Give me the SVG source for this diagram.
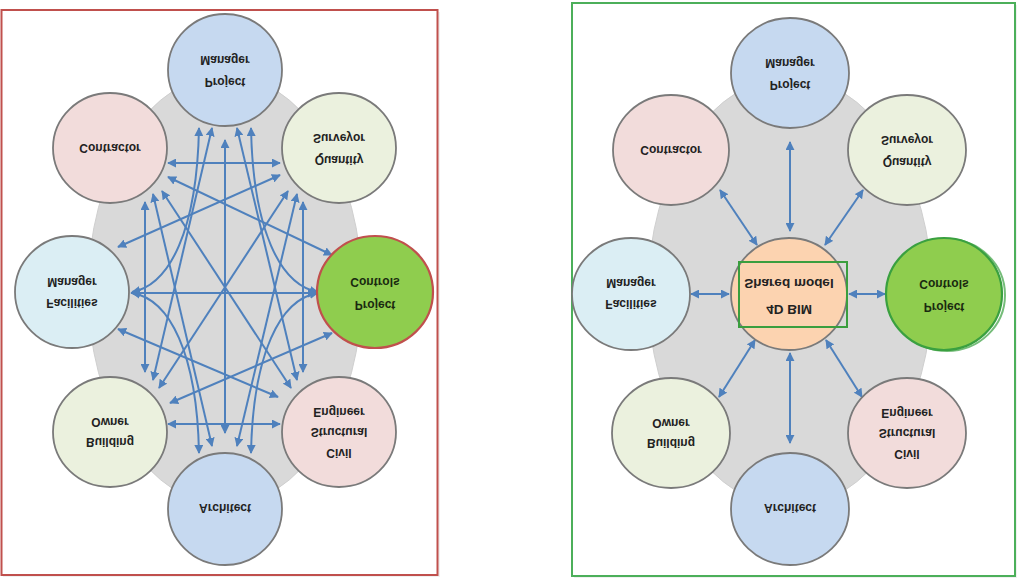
<svg xmlns="http://www.w3.org/2000/svg" width="1024" height="578" viewBox="0 0 1024 578">
<style>
.node{stroke:#7a7a7a;stroke-width:1.8}
.blue{fill:#c6d9f0}
.pink{fill:#f2dcdb}
.cream{fill:#ebf1de}
.cyan{fill:#dbeef4}
.green{fill:#8fcd4e}
.peach{fill:#fcd3b0}
.bg{fill:#d9d9d9;stroke:#cfcfcf;stroke-width:1}
text{font-family:"Liberation Sans",Arial,sans-serif;font-weight:bold;font-size:12px;fill:#222;text-anchor:middle}
.big{font-size:13.5px}
.con line,.con path{stroke:#4f81bd;stroke-width:2;fill:none;marker-start:url(#ah);marker-end:url(#ah)}
</style>
<defs>
<marker id="ah" viewBox="0 0 10 10" refX="9" refY="5" markerWidth="4.5" markerHeight="4.5" orient="auto-start-reverse" markerUnits="strokeWidth">
<path d="M0,0 L10,5 L0,10 z" fill="#4f81bd"/>
</marker>
</defs>
<rect width="1024" height="578" fill="#ffffff"/>

<!-- LEFT PANEL -->
<g id="left-panel">
<rect x="3" y="12" width="437" height="565" fill="#e6e6e6" opacity="0.6"/>
<rect x="1.5" y="10" width="436" height="565" fill="#ffffff" stroke="#c0504d" stroke-width="2"/>
<ellipse class="bg" cx="225" cy="290" rx="137" ry="215"/>
</g>

<g id="left-connectors" class="con">
<line x1="168" y1="163" x2="280" y2="163"/>
<line x1="168" y1="424" x2="280" y2="424"/>
<line x1="131" y1="293" x2="316" y2="293"/>
<line x1="225" y1="140" x2="225" y2="433"/>
<line x1="168" y1="177" x2="332" y2="255"/>
<line x1="280" y1="175" x2="118" y2="247"/>
<line x1="118" y1="329" x2="278" y2="397"/>
<line x1="332" y1="333" x2="170" y2="403"/>
<line x1="145" y1="202" x2="145" y2="372"/>
<line x1="303" y1="202" x2="303" y2="372"/>
<line x1="212" y1="128" x2="153" y2="380"/>
<line x1="237" y1="128" x2="297" y2="380"/>
<line x1="153" y1="194" x2="212" y2="446"/>
<line x1="297" y1="194" x2="237" y2="446"/>
<line x1="162" y1="191" x2="291" y2="388"/>
<line x1="288" y1="191" x2="159" y2="388"/>
<path d="M199,128 C197,230 170,285 132,292"/>
<path d="M251,128 C253,230 280,285 318,292"/>
<path d="M199,453 C197,354 170,299 132,293"/>
<path d="M251,453 C253,354 280,299 318,293"/>
</g>

<g id="l-pm"><ellipse class="node blue" cx="225" cy="70" rx="57" ry="56"/>
<g transform="translate(225,70) scale(1,-1)"><text y="-7.7">Project</text><text y="14.3">Manager</text></g></g>
<g id="l-contractor"><ellipse class="node pink" cx="110" cy="148" rx="57" ry="55"/>
<g transform="translate(110,148) scale(1,-1)"><text y="4.3">Contractor</text></g></g>
<g id="l-qs"><ellipse class="node cream" cx="339" cy="148" rx="57" ry="55"/>
<g transform="translate(339,148) scale(1,-1)"><text y="-7.7">Quantity</text><text y="14.3">Surveyor</text></g></g>
<g id="l-fm"><ellipse class="node cyan" cx="72" cy="292" rx="57" ry="56"/>
<g transform="translate(72,292) scale(1,-1)"><text y="-6.7">Facilities</text><text y="14.3">Manager</text></g></g>
<g id="l-pc"><ellipse cx="375" cy="292" rx="58" ry="56" class="green" stroke="#c0504d" stroke-width="2.2"/>
<g transform="translate(375,292) scale(1,-1)"><text y="-8.7" style="fill:#1a2a10">Project</text><text y="14.3" style="fill:#1a2a10">Controls</text></g></g>
<g id="l-bo"><ellipse class="node cream" cx="110" cy="432" rx="57" ry="55"/>
<g transform="translate(110,432) scale(1,-1)"><text y="-5.7">Building</text><text y="14.3">Owner</text></g></g>
<g id="l-cse"><ellipse class="node pink" cx="339" cy="432" rx="57" ry="55"/>
<g transform="translate(339,432) scale(1,-1)"><text y="-16.7">Civil</text><text y="4.3">Structural</text><text y="24.3">Engineer</text></g></g>
<g id="l-arch"><ellipse class="node blue" cx="225" cy="509" rx="57" ry="56"/>
<g transform="translate(225,508) scale(1,-1)"><text y="4.3">Architect</text></g></g>

<!-- RIGHT PANEL -->
<g id="right-panel">
<rect x="574" y="5" width="443" height="573" fill="#e6e6e6" opacity="0.6"/>
<rect x="572" y="3" width="443" height="573" fill="#ffffff" stroke="#4caf5a" stroke-width="2"/>
<ellipse class="bg" cx="790" cy="292" rx="142" ry="215"/>
</g>

<g id="right-connectors" class="con">
<line x1="790" y1="142" x2="790" y2="231"/>
<line x1="790" y1="353" x2="790" y2="443"/>
<line x1="720" y1="190" x2="757" y2="245"/>
<line x1="863" y1="190" x2="825" y2="245"/>
<line x1="755" y1="340" x2="719" y2="397"/>
<line x1="826" y1="340" x2="862" y2="397"/>
<line x1="691" y1="294" x2="729" y2="294"/>
<line x1="849" y1="294" x2="885" y2="294"/>
</g>

<g id="r-pm"><ellipse class="node blue" cx="790" cy="73" rx="59" ry="55"/>
<g transform="translate(790,73) scale(1,-1)"><text y="-7.7">Project</text><text y="14.3">Manager</text></g></g>
<g id="r-contractor"><ellipse class="node pink" cx="671" cy="150" rx="58" ry="55"/>
<g transform="translate(671,150) scale(1,-1)"><text y="4.3">Contractor</text></g></g>
<g id="r-qs"><ellipse class="node cream" cx="907" cy="150" rx="59" ry="55"/>
<g transform="translate(907,150) scale(1,-1)"><text y="-7.7">Quantity</text><text y="14.3">Surveyor</text></g></g>
<g id="r-fm"><ellipse class="node cyan" cx="631" cy="294" rx="59" ry="56"/>
<g transform="translate(631,293) scale(1,-1)"><text y="-6.7">Facilities</text><text y="14.3">Manager</text></g></g>
<g id="r-bim"><ellipse class="node peach" cx="789" cy="294" rx="58" ry="56"/>
<rect x="739" y="262" width="108" height="65" fill="none" stroke="#3a9e3e" stroke-width="2"/>
<g transform="translate(789,294) scale(1,-1)"><text class="big" y="-11">4D BIM</text><text class="big" y="15">Shared model</text></g></g>
<g id="r-pc"><ellipse cx="947" cy="295" rx="58" ry="56" fill="none" stroke="#3aa040" stroke-width="2" opacity="0.7"/>
<ellipse cx="944" cy="294" rx="58" ry="56" class="green" stroke="#3aa040" stroke-width="2.2"/>
<g transform="translate(944,294) scale(1,-1)"><text y="-8.7" style="fill:#1a2a10">Project</text><text y="14.3" style="fill:#1a2a10">Controls</text></g></g>
<g id="r-bo"><ellipse class="node cream" cx="671" cy="433" rx="59" ry="55"/>
<g transform="translate(671,433) scale(1,-1)"><text y="-5.7">Building</text><text y="14.3">Owner</text></g></g>
<g id="r-cse"><ellipse class="node pink" cx="907" cy="433" rx="59" ry="55"/>
<g transform="translate(907,433) scale(1,-1)"><text y="-16.7">Civil</text><text y="4.3">Structural</text><text y="24.3">Engineer</text></g></g>
<g id="r-arch"><ellipse class="node blue" cx="790" cy="509" rx="59" ry="56"/>
<g transform="translate(790,508) scale(1,-1)"><text y="4.3">Architect</text></g></g>
</svg>
